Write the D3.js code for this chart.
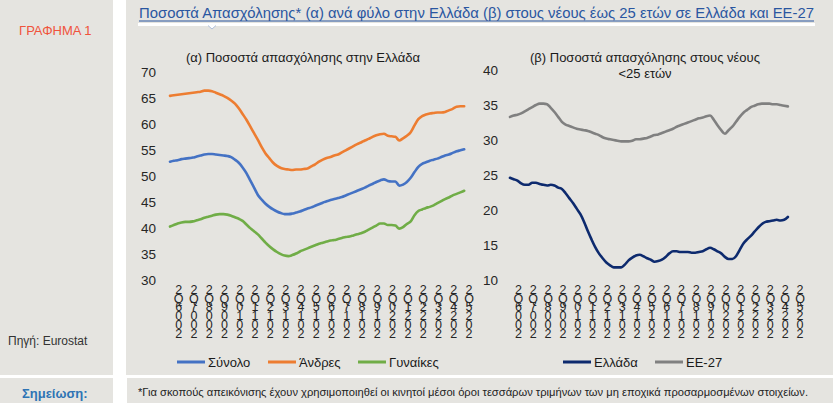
<!DOCTYPE html>
<html><head><meta charset="utf-8">
<script src="https://cdn.jsdelivr.net/npm/d3@7"></script>
<style>
html,body{margin:0;padding:0;background:#fff;}
svg{display:block;font-family:"Liberation Sans",Arial,sans-serif;}
.vt{writing-mode:vertical-rl;text-orientation:upright;}
</style></head>
<body><svg id="c" width="833" height="403"></svg>
<script>
// ---------- DATA ----------
const startQuarter = "2005Q4";
const endQuarter = "2025Q2";
const tickLabels = ["2006Q2","2007Q2","2008Q2","2009Q2","2010Q2","2011Q2","2012Q2","2013Q2","2014Q2","2015Q2",
  "2016Q2","2017Q2","2018Q2","2019Q2","2020Q2","2021Q2","2022Q2","2023Q2","2024Q2","2025Q2"];
const leftTicks = [30,35,40,45,50,55,60,65,70];
const rightTicks = [10,15,20,25,30,35,40];

// (α) quarterly from 2005Q4 to 2025Q1
const total = [52.8,53.0,53.1,53.3,53.4,53.5,53.6,53.8,54.0,54.2,54.3,54.3,54.2,54.1,54.0,53.9,53.7,53.2,52.6,51.7,
  50.6,49.2,47.8,46.4,45.5,44.7,44.1,43.6,43.2,42.9,42.7,42.7,42.8,43.0,43.2,43.5,43.8,44.0,44.3,44.6,
  44.9,45.2,45.4,45.6,45.8,46.0,46.3,46.6,46.9,47.2,47.5,47.8,48.2,48.5,48.9,49.2,49.4,49.1,49.0,49.0,
  48.2,48.4,48.9,49.7,50.8,51.8,52.4,52.7,53.0,53.2,53.4,53.7,54.0,54.2,54.5,54.8,55.0,55.2];
const men = [65.5,65.6,65.7,65.8,65.9,66.0,66.1,66.2,66.3,66.5,66.5,66.4,66.1,65.8,65.5,65.1,64.6,64.0,63.1,62.0,
  60.9,59.6,58.3,57.0,55.6,54.4,53.5,52.6,52.0,51.6,51.4,51.3,51.2,51.3,51.3,51.4,51.5,51.9,52.3,52.8,
  53.2,53.5,53.7,54.0,54.2,54.6,55.0,55.4,55.8,56.2,56.5,56.9,57.2,57.6,57.9,58.1,58.2,57.8,57.7,57.6,
  56.9,57.3,57.8,58.5,59.8,61.0,61.6,61.9,62.1,62.2,62.3,62.3,62.4,62.7,63.0,63.4,63.5,63.5];
const women = [40.3,40.6,40.9,41.1,41.2,41.2,41.3,41.5,41.7,42.0,42.2,42.4,42.6,42.7,42.7,42.6,42.4,42.1,41.8,41.4,
  40.7,40.0,39.4,38.8,38.0,37.2,36.5,35.9,35.4,35.0,34.7,34.6,34.8,35.1,35.5,35.8,36.1,36.4,36.7,37.0,
  37.2,37.4,37.6,37.7,37.9,38.1,38.3,38.4,38.6,38.8,39.0,39.3,39.7,40.1,40.5,40.9,40.9,40.6,40.6,40.5,
  39.9,40.2,40.8,41.3,42.5,43.3,43.6,43.9,44.1,44.4,44.8,45.2,45.6,45.9,46.3,46.6,46.9,47.2];
// (β) quarterly from 2005Q4 to 2024Q3
const greeceYouth = [24.6,24.4,24.2,23.8,23.6,23.6,23.9,23.9,23.7,23.6,23.5,23.6,23.5,23.2,23.0,22.4,21.7,21.0,20.2,19.4,
  18.3,17.0,15.8,14.7,13.8,13.1,12.5,12.1,11.8,11.8,11.8,12.2,12.8,13.2,13.5,13.6,13.4,13.1,12.9,12.6,
  12.7,12.9,13.3,13.8,14.1,14.1,14.0,14.0,14.0,13.9,13.9,14.0,14.1,14.4,14.6,14.4,14.1,13.8,13.3,13.0,
  13.0,13.4,14.3,15.2,15.8,16.3,16.9,17.5,18.0,18.3,18.4,18.5,18.6,18.5,18.6,19.0];
const eu27Youth = [33.3,33.5,33.6,33.8,34.1,34.4,34.7,35.0,35.2,35.2,35.1,34.6,34.0,33.3,32.6,32.2,32.0,31.8,31.6,31.5,
  31.4,31.3,31.1,30.9,30.7,30.4,30.2,30.1,30.0,29.9,29.8,29.8,29.8,29.9,30.1,30.1,30.2,30.3,30.5,30.7,
  30.8,31.0,31.2,31.4,31.6,31.9,32.1,32.3,32.5,32.7,32.9,33.1,33.2,33.4,33.5,32.9,32.1,31.4,30.9,31.4,
  31.9,32.6,33.3,33.9,34.3,34.7,34.9,35.1,35.2,35.2,35.2,35.1,35.1,35.0,34.9,34.8];

const leftSeries = [
  {name:"Σύνολο", values: total, color:"#4472C4"},
  {name:"Άνδρες", values: men, color:"#ED7D31"},
  {name:"Γυναίκες", values: women, color:"#70AD47"}
];
const rightSeries = [
  {name:"Ελλάδα", values: greeceYouth, color:"#0d2a6e"},
  {name:"ΕΕ-27", values: eu27Youth, color:"#808080"}
];

// ---------- HELPERS ----------
function qIndex(q){ const y=+q.slice(0,4), n=+q.slice(5); const y0=+startQuarter.slice(0,4), n0=+startQuarter.slice(5); return (y-y0)*4+(n-n0); }
const nQ = qIndex(endQuarter);

const svg = d3.select("#c");
const BG = "#e5e4e0";

// panels
svg.append("rect").attr("x",0).attr("y",0).attr("width",113).attr("height",375).attr("fill",BG);
svg.append("rect").attr("x",126).attr("y",0).attr("width",707).attr("height",375).attr("fill",BG);
svg.append("rect").attr("x",0).attr("y",378).attr("width",113).attr("height",25).attr("fill",BG);
svg.append("rect").attr("x",127).attr("y",378).attr("width",706).attr("height",25).attr("fill",BG);

// left column texts
svg.append("text").attr("x",19).attr("y",35).attr("font-size",13).attr("fill","#f0533c").text("ΓΡΑΦΗΜΑ 1");
svg.append("text").attr("x",8).attr("y",345).attr("font-size",12).attr("fill","#333").text("Πηγή: Eurostat");
svg.append("text").attr("x",22).attr("y",397.5).attr("font-size",13).attr("font-weight","bold").attr("fill","#2e74b5").text("Σημείωση:");

// title
svg.append("text").attr("x",139).attr("y",18).attr("font-size",15).attr("fill","#2a56a0")
  .attr("textLength",675).attr("lengthAdjust","spacingAndGlyphs")
  .text("Ποσοστά Απασχόλησης* (α) ανά φύλο στην Ελλάδα (β) στους νέους έως 25 ετών σε Ελλάδα και ΕΕ-27");
svg.append("line").attr("x1",139).attr("x2",814).attr("y1",21).attr("y2",21).attr("stroke","#2a56a0").attr("stroke-width",1);
svg.append("rect").attr("x",138).attr("y",23).attr("width",677).attr("height",3).attr("fill","#fff");
svg.append("path").attr("d","M208,25.5 L212,29 L216,25.5").attr("fill","#fff").attr("stroke","#9db3d6").attr("stroke-width",0.8);

// note
svg.append("text").attr("x",138).attr("y",396).attr("font-size",10.5).attr("fill","#222")
  .attr("textLength",670).attr("lengthAdjust","spacingAndGlyphs")
  .text("*Για σκοπούς απεικόνισης έχουν χρησιμοποιηθεί οι κινητοί μέσοι όροι τεσσάρων τριμήνων των μη εποχικά προσαρμοσμένων στοιχείων.");

// ---------- CHART BUILDER ----------
function chart(opt){
  const x = d3.scaleLinear().domain([0,nQ]).range(opt.xr);
  const y = d3.scaleLinear().domain(opt.yd).range(opt.yr);
  const g = svg.append("g");
  // y axis
  const ax = g.append("g").attr("transform",`translate(${opt.axX},0)`)
    .call(d3.axisLeft(y).tickValues(opt.ticks).tickSize(0).tickPadding(0));
  ax.select(".domain").remove();
  ax.selectAll("text").attr("font-size",13.5).attr("fill","#262626").attr("font-family","Liberation Sans, Arial, sans-serif");
  // x labels: stacked upright characters (reversed order), one vertical text each
  tickLabels.forEach(l=>{
    const cx = x(qIndex(l)) + 1;
    g.append("text").attr("class","vt").attr("x",cx).attr("y",283)
      .attr("font-size",12.5).attr("letter-spacing","-5.3px").attr("fill","#262626")
      .text(l.split("").reverse().join(""));
  });
  // lines
  const line = d3.line().x((d,i)=>x(i)).y(d=>y(d)).curve(d3.curveMonotoneX);
  opt.series.forEach(s=>{
    g.append("path").datum(s.values).attr("d",line).attr("fill","none")
      .attr("stroke",s.color).attr("stroke-width",2.6).attr("stroke-linejoin","round").attr("stroke-linecap","round");
  });
  // subtitle
  opt.sub.forEach((t,k)=>{
    g.append("text").attr("x",opt.subX).attr("y",62+k*16).attr("text-anchor","middle")
      .attr("font-size",13).attr("fill","#1a1a1a").text(t);
  });
  // legend
  opt.series.forEach((s,k)=>{
    const lx = opt.legX[k];
    g.append("line").attr("x1",lx).attr("x2",lx+28).attr("y1",362).attr("y2",362)
      .attr("stroke",s.color).attr("stroke-width",3);
    g.append("text").attr("x",lx+31).attr("y",366.5).attr("font-size",13).attr("fill","#1a1a1a").text(s.name);
  });
}

chart({xr:[170,468], yd:[30,70], yr:[280,72.5], ticks:leftTicks, axX:156, series:leftSeries,
  sub:["(α) Ποσοστά απασχόλησης στην Ελλάδα"], subX:303, legX:[177,268,358]});
chart({xr:[510,799], yd:[10,40], yr:[280,70], ticks:rightTicks, axX:498, series:rightSeries,
  sub:["(β) Ποσοστά απασχόλησης στους νέους","<25 ετών"], subX:645, legX:[563,655]});
</script>
</body></html>
